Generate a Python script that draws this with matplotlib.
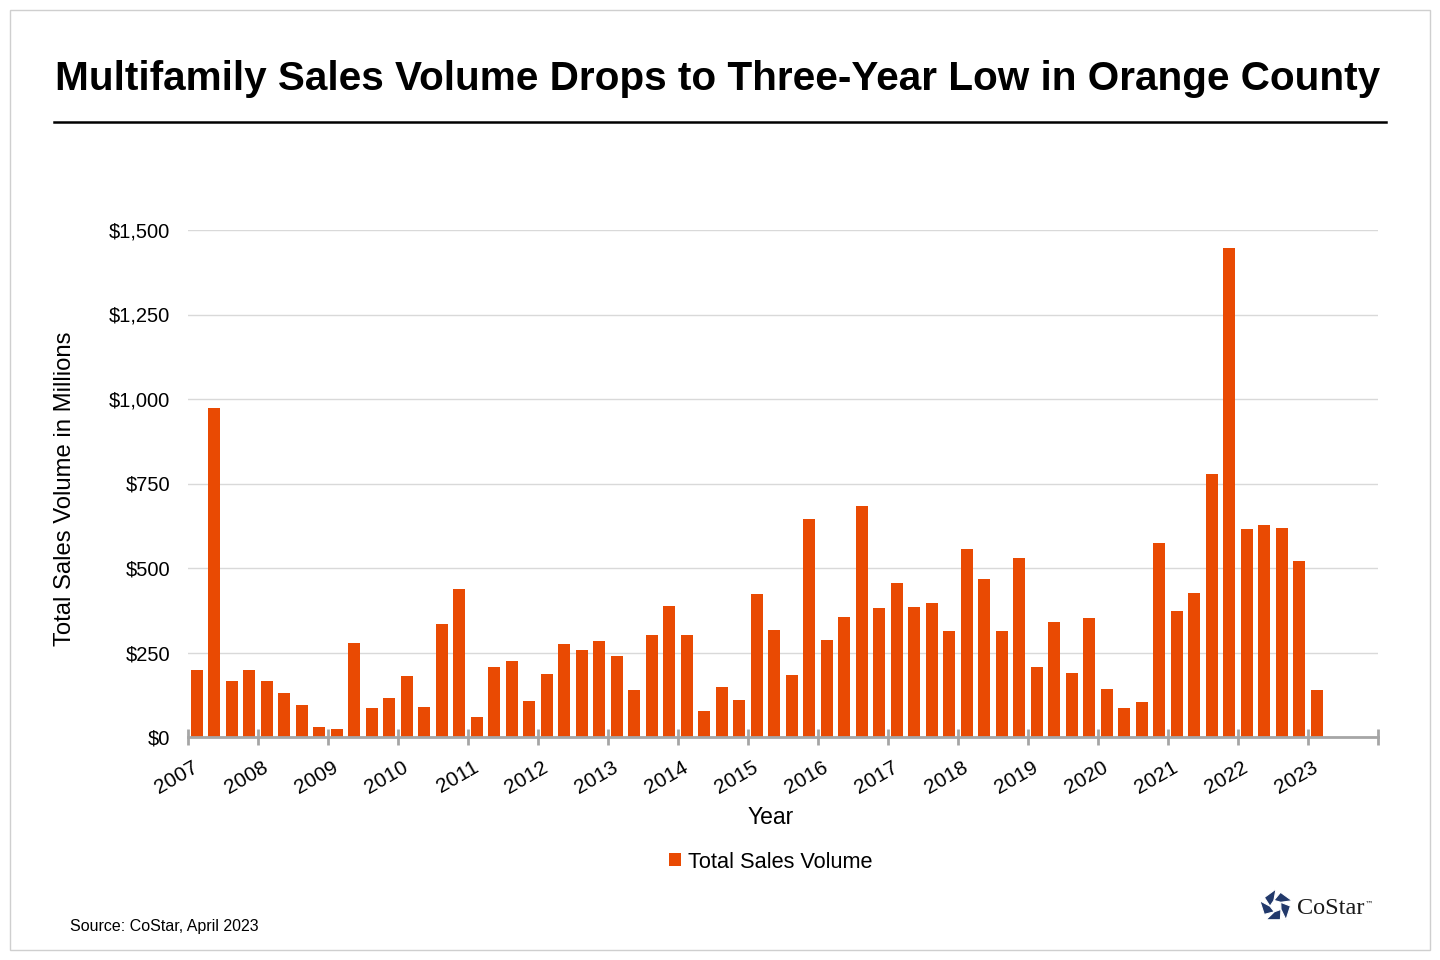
import matplotlib
matplotlib.use("Agg")
import matplotlib.pyplot as plt
import matplotlib.transforms as mtransforms
from matplotlib.patches import Rectangle, Polygon, Patch
from matplotlib.lines import Line2D
import numpy as np

plt.rcParams['font.family'] = ['Liberation Sans', 'DejaVu Sans']

# ---- data (quarterly, 2007 Q1 .. 2023 Q1), $ millions ----
years = [str(y) for y in range(2007, 2024)]
sales_volume = [
    199, 974, 167, 199,      # 2007
    167, 131, 96, 30,        # 2008
    25, 279, 87, 116,        # 2009
    181, 90, 335, 439,       # 2010
    60, 208, 226, 107,       # 2011
    187, 276, 258, 285,      # 2012
    240, 140, 303, 388,      # 2013
    303, 78, 149, 110,       # 2014
    424, 317, 184, 646,      # 2015
    288, 356, 684, 383,      # 2016
    456, 385, 397, 314,      # 2017
    557, 468, 314, 530,      # 2018
    208, 341, 189, 353,      # 2019
    142, 86, 104, 574,       # 2020
    373, 426, 779, 1446,     # 2021
    615, 627, 618, 520,      # 2022
    140,                     # 2023
]
y_ticks = [0, 250, 500, 750, 1000, 1250, 1500]
y_tick_labels = ["$0", "$250", "$500", "$750", "$1,000", "$1,250", "$1,500"]

W, H = 1440, 960
fig = plt.figure(figsize=(W / 100, H / 100), dpi=100)

def fx(px):
    return px / W

def fy(py):
    return 1 - py / H

# outer border
fig.patches.append(Rectangle((fx(10), fy(950)), fx(1420), 940 / H, transform=fig.transFigure,
                             fill=False, edgecolor='#CFCFCF', linewidth=1))

# title + rule
fig.text(fx(718), fy(79), "Multifamily Sales Volume Drops to Three-Year Low in Orange County",
         ha='center', va='center', fontsize=29.2, fontweight='bold', color='black')
fig.add_artist(Line2D([fx(54), fx(1386)], [fy(122), fy(122)], transform=fig.transFigure,
                      color='black', linewidth=1.8))

ax = fig.add_axes([fx(188), fy(737), fx(1378) - fx(188), (737 - 230) / H])

bar_color = '#E94A03'
x = np.arange(len(sales_volume))
ax.bar(x, sales_volume, width=0.68, color=bar_color, zorder=3)

n_slots = 4 * len(years)  # 68 quarter slots
ax.set_xlim(-0.5, n_slots - 0.5)
ax.set_ylim(0, 1500)

ax.set_yticks(y_ticks)
ax.set_yticklabels(y_tick_labels, fontsize=14.5, color='black')
ax.grid(axis='y', color='#D9D9D9', linewidth=1, zorder=0)
ax.tick_params(axis='y', length=0, pad=13)

tick_pos = [-0.5 + 4 * k for k in range(len(years) + 1)]
ax.set_xticks(tick_pos)
ax.set_xticklabels(years + [""], fontsize=15, rotation=30, ha='right',
                   rotation_mode='anchor', color='black')
ax.tick_params(axis='x', direction='inout', length=11, width=2, color='#A6A6A6', pad=8)
offset = mtransforms.ScaledTranslation(4 / 100, -2 / 100, fig.dpi_scale_trans)
for lbl in ax.get_xticklabels():
    lbl.set_transform(lbl.get_transform() + offset)

for side in ['top', 'right', 'left']:
    ax.spines[side].set_visible(False)
ax.spines['bottom'].set_color('#A6A6A6')
ax.spines['bottom'].set_linewidth(2)
ax.spines['bottom'].set_zorder(4)

fig.text(fx(65), fy(489), "Total Sales Volume in Millions", rotation=90, ha='center', va='center',
         fontsize=17.2, color='black')

fig.text(fx(771), fy(817), "Year", ha='center', va='center', fontsize=16.5, color='black')

fig.legend(handles=[Patch(facecolor=bar_color, edgecolor='none', label='Total Sales Volume')],
           loc='center', bbox_to_anchor=(fx(771), fy(862)), frameon=False, fontsize=15.7,
           handlelength=0.55, handleheight=0.55, handletextpad=0.3)

fig.text(fx(70), fy(927), "Source: CoStar, April 2023", ha='left', va='center',
         fontsize=11.5, color='black')

# CoStar logo (approximation)
cx, cy, R = 1276, 906, 17
navy = '#22396B'
angles = np.deg2rad(90 + 72 * np.arange(5))
outer = [(cx + R * np.cos(a), cy - R * np.sin(a)) for a in angles]
r_in = 6.0
inner = [(cx + r_in * np.cos(a + np.deg2rad(20)), cy - r_in * np.sin(a + np.deg2rad(20))) for a in angles]
for k in range(5):
    p0 = outer[k]
    p1 = outer[(k + 1) % 5]
    pm = (p0[0] + 0.72 * (p1[0] - p0[0]), p0[1] + 0.72 * (p1[1] - p0[1]))
    q = inner[(k + 1) % 5]
    qi = inner[k]
    pts = [p0, pm, q, qi]
    fig.patches.append(Polygon([(fx(px), fy(py)) for px, py in pts], closed=True,
                               transform=fig.transFigure, facecolor=navy, edgecolor='white',
                               linewidth=0.8))
fig.text(fx(1297), fy(908), "CoStar", ha='left', va='center', fontsize=17.5,
         family=['Liberation Serif', 'DejaVu Serif'], color='#1A1A1A')
fig.text(fx(1365), fy(904), "™", ha='left', va='center', fontsize=6,
         family=['DejaVu Sans'], color='#1A1A1A')

fig.savefig("out.png", dpi=100)
